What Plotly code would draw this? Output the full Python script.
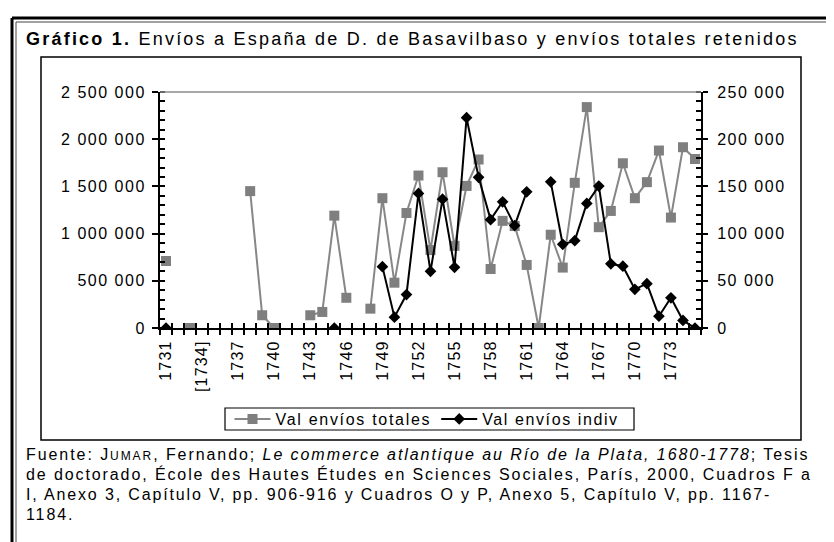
import plotly.graph_objects as go

# ---------------- data ----------------
years = list(range(1731, 1776))
tick_years = [1731, 1734, 1737, 1740, 1743, 1746, 1749, 1752, 1755, 1758, 1761, 1764, 1767, 1770, 1773]
tick_labels = ["1731", "[1734]", "1737", "1740", "1743", "1746", "1749", "1752", "1755",
               "1758", "1761", "1764", "1767", "1770", "1773"]

# Val envíos totales (left axis)
totales = [710000, None, 0, None, None, None, None, 1450000, 135000, 0,
           None, None, 135000, 170000, 1190000, 320000, None, 205000, 1375000, 480000,
           1218000, 1615000, 825000, 1650000, 870000, 1505000, 1785000, 625000, 1135000, 1080000,
           668000, 0, 988000, 640000, 1538000, 2340000, 1068000, 1240000, 1745000, 1375000,
           1545000, 1880000, 1170000, 1915000, 1790000]

# Val envíos indiv (right axis)
indiv = [0, None, None, None, None, None, None, None, None, None,
         None, None, None, None, 0, None, None, None, 65000, 11500,
         35400, 142600, 60000, 136500, 64300, 222800, 159600, 114800, 133700, 108500,
         144300, None, 154800, 88600, 92500, 132000, 150300, 68000, 65500, 41000,
         47000, 12500, 32000, 8000, 0]

left_vals = [0, 500000, 1000000, 1500000, 2000000, 2500000]
left_labels = ["0", "500 000", "1 000 000", "1 500 000", "2 000 000", "2 500 000"]
right_vals = [0, 50000, 100000, 150000, 200000, 250000]
right_labels = ["0", "50 000", "100 000", "150 000", "200 000", "250 000"]

name_tot = "Val envíos totales"
name_ind = "Val envíos indiv"

title_bold = "Gráfico 1."
title_rest = " Envíos a España de D. de Basavilbaso y envíos totales retenidos"
foot_lines = [
    'Fuente: J<span style="font-size:12px">UMAR</span>, Fernando; <i>Le commerce atlantique au Río de la Plata, 1680-1778</i>; Tesis',
    "de doctorado, École des Hautes Études en Sciences Sociales, París, 2000, Cuadros F a",
    "I, Anexo 3, Capítulo V, pp. 906-916 y Cuadros O y P, Anexo 5, Capítulo V, pp. 1167-",
    "1184.",
]
foot_spacing = [1.93, 1.9, 1.85, 1.9]

# ---------------- layout helpers ----------------
W, H = 834, 542
PL, PR, PT, PB = 152, 693, 84, 320
FONT = "Liberation Sans, Arial, sans-serif"


def px(x):
    return (x - PL) / (PR - PL)


def py(y):
    return (PB - y) / (PB - PT)


def ls(text, s):
    return f'<span style="letter-spacing:{s}px">{text}</span>'


x_range = [years[0] - 0.5, years[-1] + 0.5]
bounds = [y - 0.5 for y in years] + [years[-1] + 0.5]

fig = go.Figure()
fig.add_trace(go.Scatter(
    x=years, y=totales, mode="lines+markers", name=ls(name_tot, 1.7),
    line=dict(color="#878787", width=2),
    marker=dict(symbol="square", size=10, color="#7f7f7f"),
    xaxis="x", yaxis="y", connectgaps=False, hoverinfo="skip"))
fig.add_trace(go.Scatter(
    x=years, y=indiv, mode="lines+markers", name=ls(name_ind, 1.6),
    line=dict(color="black", width=2),
    marker=dict(symbol="diamond", size=9, color="black"),
    xaxis="x", yaxis="y2", connectgaps=False, hoverinfo="skip"))
# empty helper traces so the tick-only overlay axes are drawn
for xa, ya in [("x3", "y"), ("x", "y3"), ("x", "y4")]:
    fig.add_trace(go.Scatter(x=[], y=[], xaxis=xa, yaxis=ya, showlegend=False, hoverinfo="skip"))

tickfont = dict(family=FONT, size=16, color="black")

fig.update_layout(
    width=W, height=H,
    margin=dict(l=PL, r=W - PR, t=PT, b=H - PB, pad=0),
    paper_bgcolor="white", plot_bgcolor="white",
    showlegend=True,
    font=dict(family=FONT, size=16, color="black"),
    xaxis=dict(
        range=x_range, tickmode="array", tickvals=tick_years,
        ticktext=[ls(t, 1.2) for t in tick_labels], tickangle=-90,
        ticks="", showline=True, linecolor="black", linewidth=2,
        showgrid=False, zeroline=False, tickfont=tickfont, ticklabelstandoff=4,
        minor=dict(tickmode="array", tickvals=bounds, ticks="outside", ticklen=5,
                   tickwidth=1.5, tickcolor="black", showgrid=False),
    ),
    xaxis3=dict(
        range=x_range, overlaying="x", anchor="y", side="bottom",
        tickmode="array", tickvals=bounds, ticks="inside", ticklen=5, tickwidth=1.5,
        tickcolor="black", showticklabels=False, showline=False, showgrid=False, zeroline=False,
    ),
    yaxis=dict(
        range=[0, 2500000], tickmode="array", tickvals=left_vals,
        ticktext=[ls(t, 1.5) for t in left_labels],
        ticks="outside", ticklen=6, tickwidth=1.5, tickcolor="black",
        showline=True, linecolor="black", linewidth=2,
        showgrid=False, zeroline=False, tickfont=tickfont, ticklabelstandoff=3,
        minor=dict(tickmode="linear", tick0=0, dtick=100000, ticks="inside", ticklen=5,
                   tickwidth=1.5, tickcolor="black", showgrid=False),
    ),
    yaxis3=dict(
        range=[0, 2500000], overlaying="y", anchor="x", side="left",
        tickmode="array", tickvals=left_vals, ticks="inside", ticklen=5, tickwidth=1.5,
        tickcolor="black", showticklabels=False, showline=False, showgrid=False, zeroline=False,
    ),
    yaxis2=dict(
        range=[0, 250000], overlaying="y", anchor="x", side="right",
        tickmode="array", tickvals=right_vals,
        ticktext=[ls(t, 1.5) for t in right_labels],
        ticks="outside", ticklen=5, tickwidth=1.5, tickcolor="black",
        showline=True, linecolor="black", linewidth=2,
        showgrid=False, zeroline=False, tickfont=tickfont, ticklabelstandoff=6,
        minor=dict(tickmode="linear", tick0=0, dtick=10000, ticks="inside", ticklen=5,
                   tickwidth=1.5, tickcolor="black", showgrid=False),
    ),
    yaxis4=dict(
        range=[0, 250000], overlaying="y", anchor="x", side="right",
        tickmode="array", tickvals=right_vals, ticks="inside", ticklen=5, tickwidth=1.5,
        tickcolor="black", showticklabels=False, showline=False, showgrid=False, zeroline=False,
    ),
    legend=dict(
        orientation="h", x=px(419), xanchor="center", y=py(411), yanchor="middle",
        borderwidth=0, bgcolor="rgba(0,0,0,0)",
        font=dict(family=FONT, size=16, color="black"),
        itemwidth=36, tracegroupgap=0,
    ),
)

shapes = [
    # outer double frame
    dict(type="line", x0=px(4), x1=px(830), y0=py(10), y1=py(10), line=dict(color="black", width=3)),
    dict(type="line", x0=px(4), x1=px(4), y0=py(10), y1=py(560), line=dict(color="black", width=3)),
    dict(type="line", x0=px(830), x1=px(830), y0=py(10), y1=py(560), line=dict(color="black", width=3)),
    dict(type="line", x0=px(8), x1=px(8), y0=py(14), y1=py(560), line=dict(color="#444", width=1)),
    dict(type="line", x0=px(8), x1=px(826), y0=py(14), y1=py(14), line=dict(color="#444", width=1)),
    dict(type="line", x0=px(826), x1=px(826), y0=py(14), y1=py(560), line=dict(color="#444", width=1)),
    # chart area box
    dict(type="rect", x0=px(33), x1=px(793), y0=py(49), y1=py(432), line=dict(color="black", width=1.5)),
    # legend box
    dict(type="rect", x0=px(217), x1=px(626), y0=py(400), y1=py(422), line=dict(color="black", width=1.2)),
    # plot area top border
    dict(type="line", x0=0, x1=1, y0=1, y1=1, line=dict(color="#8a8a8a", width=1.5)),
]
for s in shapes:
    s["xref"] = "paper"
    s["yref"] = "paper"
fig.update_layout(shapes=shapes)

ann = [dict(
    text=ls(f"<b>{title_bold}</b>{title_rest}", 2.22),
    x=px(16), y=py(31), xanchor="left", yanchor="middle",
    font=dict(family=FONT, size=18, color="black"))]
for i, line in enumerate(foot_lines):
    ann.append(dict(
        text=ls(line, foot_spacing[i]), x=px(16), y=py(446 + 20.3 * i), xanchor="left", yanchor="middle",
        font=dict(family=FONT, size=16, color="black")))
for a in ann:
    a.update(xref="paper", yref="paper", showarrow=False, align="left")
fig.update_layout(annotations=ann)

fig.write_html("out.html")
